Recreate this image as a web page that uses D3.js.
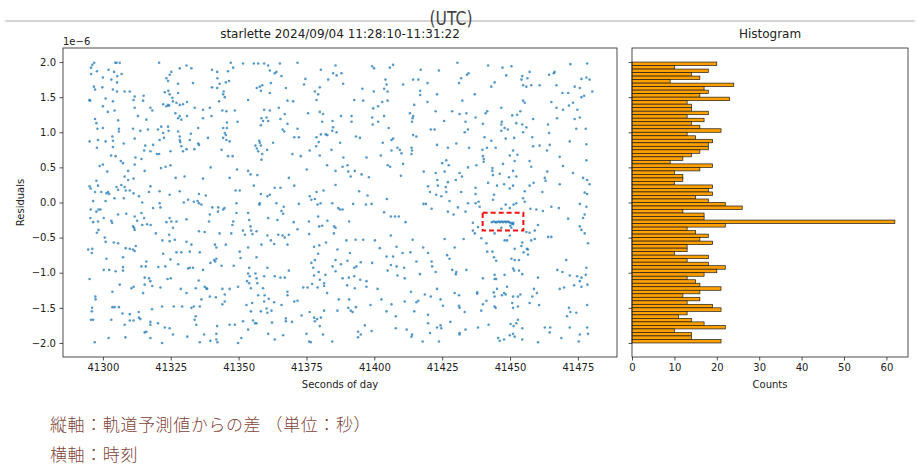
<!DOCTYPE html>
<meta charset="utf-8">
<title>starlette 2024/09/04 residuals</title>
<style>
body { margin: 0; background: #fff; }
svg { display: block; }
.tick text { font: 10px "DejaVu Sans", sans-serif; fill: #222; }
.tick line { stroke: #222; stroke-width: 0.8; }
.lbl { font: 10px "DejaVu Sans", sans-serif; fill: #222; }
.ttl { font: 12px "DejaVu Sans", sans-serif; fill: #222; text-anchor: middle; }
.frame { fill: none; stroke: #222; stroke-width: 0.8; }
.jp { font: 300 17px "Noto Sans CJK JP", sans-serif; fill: #7f4438; letter-spacing: 0.6px; }
</style>
<svg width="920" height="466"></svg>
<script src="https://d3js.org/d3.v7.min.js"></script>
<script>
// ---- data (residuals in units of 1e-6 s) ----
var xTicks = [41300, 41325, 41350, 41375, 41400, 41425, 41450, 41475];
var yTicks = [-2.0, -1.5, -1.0, -0.5, 0.0, 0.5, 1.0, 1.5, 2.0];
var countTicks = [0, 10, 20, 30, 40, 50, 60];

// histogram counts, top bin (2.0) down to bottom bin (-2.0)
var histRange = [-2.0, 2.0];
var histCounts = [20,10,18,14,16,9,24,17,18,16,23,13,14,14,18,13,17,14,16,21,
                  13,15,19,18,18,16,14,12,9,19,16,10,12,12,10,19,18,19,15,18,
                  22,26,12,17,17,62,22,13,15,18,16,19,13,13,10,18,13,18,22,20,
                  17,13,15,16,21,16,12,16,13,19,21,13,11,14,17,22,10,14,14,21];

// highlighted region [x0, x1, yTop, yBottom]
var redBox = [41439.9, 41454.9, -0.145, -0.40];

var scatterA = [[41296.8,1.99],[41296.1,1.96],[41295.6,1.92],[41304.6,1.99],[41306.2,1.99],[41305.0,1.99],[41320.7,1.99],[41330.8,1.95],[41328.3,1.91],[41332.6,1.91],[41347.1,1.99],[41351.6,1.98],[41297.8,1.87],[41302.1,1.89],[41304.1,1.86],[41306.9,1.83],[41305.3,1.80],[41295.7,1.83],[41325.2,1.86],[41324.6,1.82],[41340.2,1.89],[41342.1,1.86],[41346.1,1.87],[41348.0,1.92],[41300.0,1.78],[41303.1,1.75],[41305.2,1.71],[41323.4,1.77],[41324.0,1.73],[41327.7,1.69],[41333.2,1.70],[41342.2,1.77],[41343.0,1.69],[41345.3,1.71],[41346.5,1.73],[41296.7,1.65],[41297.1,1.61],[41299.8,1.64],[41303.7,1.61],[41305.2,1.58],[41308.0,1.58],[41309.9,1.58],[41311.7,1.51],[41315.0,1.52],[41322.8,1.57],[41324.1,1.59],[41324.6,1.54],[41325.6,1.49],[41327.7,1.56],[41340.2,1.64],[41342.1,1.63],[41344.3,1.54],[41344.5,1.58],[41344.9,1.50],[41295.0,1.46],[41295.3,1.45],[41301.0,1.48],[41303.7,1.44],[41311.3,1.46],[41314.8,1.45],[41322.2,1.40],[41324.0,1.39],[41325.8,1.44],[41327.1,1.42],[41328.3,1.39],[41329.5,1.40],[41331.0,1.43],[41342.8,1.44],[41353.5,1.46],[41300.0,1.37],[41311.7,1.35],[41317.5,1.35],[41318.2,1.31],[41323.4,1.37],[41324.4,1.38],[41333.8,1.35],[41336.9,1.32],[41339.4,1.35],[41344.0,1.31],[41345.5,1.30],[41348.6,1.31],[41301.8,1.29],[41304.3,1.31],[41297.1,1.19],[41297.6,1.13],[41305.6,1.17],[41312.9,1.23],[41316.0,1.18],[41326.7,1.27],[41327.7,1.20],[41328.9,1.18],[41328.3,1.23],[41331.0,1.23],[41336.9,1.20],[41340.0,1.23],[41345.7,1.14],[41349.6,1.15],[41298.0,1.05],[41300.0,1.06],[41305.9,1.05],[41305.9,1.01],[41311.1,1.05],[41313.8,1.02],[41316.6,1.04],[41320.3,1.04],[41321.5,1.08],[41324.0,1.08],[41322.2,0.99],[41324.2,1.02],[41327.7,1.01],[41332.4,0.98],[41335.1,1.06],[41344.3,1.06],[41345.7,1.06],[41344.9,0.99],[41295.1,0.87],[41298.2,0.89],[41301.0,0.87],[41303.5,0.94],[41303.7,0.88],[41307.7,0.84],[41311.7,0.91],[41315.6,0.81],[41318.5,0.82],[41320.9,0.89],[41322.5,0.92],[41328.3,0.94],[41328.3,0.89],[41328.5,0.86],[41328.9,0.80],[41332.0,0.89],[41335.1,0.84],[41335.4,0.82],[41338.7,0.92],[41344.3,0.92],[41345.3,0.96],[41345.5,0.89],[41346.7,0.87],[41297.8,0.78],[41303.7,0.79],[41315.2,0.74],[41317.5,0.73],[41319.9,0.69],[41320.7,0.69],[41324.9,0.73],[41329.5,0.73],[41330.8,0.76],[41333.7,0.76],[41343.7,0.75],[41346.1,0.66],[41347.8,0.66],[41303.0,0.67],[41304.7,0.66],[41306.6,0.59],[41307.4,0.56],[41312.0,0.64],[41314.2,0.62],[41311.7,0.54],[41300.0,0.54],[41298.8,0.52],[41321.4,0.49],[41323.1,0.51],[41324.9,0.53],[41315.4,0.45],[41309.3,0.45],[41301.6,0.44],[41349.4,0.47],[41339.7,0.50],[41308.0,0.37],[41309.3,0.32],[41311.3,0.34],[41326.8,0.35],[41330.1,0.37],[41336.9,0.34],[41346.7,0.35],[41295.1,0.23],[41295.5,0.20],[41297.6,0.31],[41298.2,0.24],[41297.1,0.15],[41301.3,0.13],[41299.4,0.15],[41305.0,0.22],[41305.6,0.18],[41306.8,0.25],[41308.0,0.22],[41308.4,0.17],[41309.9,0.17],[41311.3,0.13],[41313.3,0.09],[41317.0,0.15],[41317.5,0.23],[41320.9,0.16],[41324.6,0.11],[41328.3,0.16],[41335.4,0.12],[41337.9,0.10],[41348.9,0.17],[41350.4,0.17],[41296.4,0.02],[41301.0,0.02],[41301.9,0.15],[41302.3,0.12],[41304.3,0.06],[41307.7,0.06],[41314.5,0.00],[41320.9,-0.01],[41321.2,-0.07],[41318.5,-0.08],[41329.8,0.00],[41331.4,0.04],[41333.5,0.01],[41334.9,0.02],[41335.4,-0.01],[41336.3,-0.03],[41340.3,-0.07],[41342.4,-0.13],[41342.5,-0.07],[41344.3,-0.10],[41344.8,-0.08],[41349.2,-0.01],[41349.2,-0.15],[41295.5,-0.10],[41297.6,-0.13],[41298.4,-0.10],[41299.1,-0.10],[41305.6,-0.17],[41308.6,-0.16],[41311.7,-0.20],[41314.2,-0.15],[41315.2,-0.22],[41312.6,-0.26],[41316.3,-0.31],[41317.6,-0.32],[41324.6,-0.22],[41325.2,-0.27],[41323.4,-0.28],[41327.1,-0.27],[41330.8,-0.24],[41339.4,-0.17],[41339.1,-0.27],[41348.0,-0.27],[41347.7,-0.32],[41351.6,-0.40],[41295.4,-0.22],[41296.4,-0.28],[41298.2,-0.27],[41300.3,-0.22],[41303.1,-0.26],[41303.4,-0.29],[41298.4,-0.39],[41297.8,-0.43],[41311.1,-0.34],[41311.5,-0.36],[41311.7,-0.39],[41314.5,-0.32],[41319.5,-0.44],[41324.4,-0.46],[41325.8,-0.36],[41335.4,-0.41],[41337.5,-0.42],[41343.0,-0.44],[41347.3,-0.44],[41300.7,-0.50],[41301.0,-0.56],[41304.0,-0.57],[41305.6,-0.58],[41308.4,-0.65],[41309.9,-0.66],[41311.1,-0.67],[41311.7,-0.69],[41312.1,-0.62],[41321.9,-0.54],[41324.6,-0.55],[41326.5,-0.53],[41330.8,-0.56],[41332.6,-0.60],[41341.3,-0.60],[41341.8,-0.64],[41345.3,-0.60],[41352.3,-0.46],[41294.6,-0.67],[41296.1,-0.66],[41295.9,-0.72],[41301.3,-0.80],[41307.4,-0.78],[41322.2,-0.73],[41324.9,-0.81],[41327.1,-0.71],[41328.9,-0.71],[41332.0,-0.70],[41335.7,-0.71],[41341.8,-0.80],[41341.4,-0.84],[41339.6,-0.86],[41341.0,-0.82],[41343.7,-0.90],[41348.2,-0.90],[41350.4,-0.70],[41350.7,-0.79],[41300.3,-0.96],[41302.3,-0.96],[41304.7,-0.98],[41307.4,-0.92],[41307.4,-0.97],[41314.2,-0.91],[41316.0,-0.84],[41315.8,-0.91],[41320.4,-0.92],[41323.0,-0.91],[41327.7,-0.88],[41331.4,-0.94],[41332.0,-0.93],[41333.2,-0.93],[41336.9,-0.96],[41295.1,-1.09],[41303.5,-1.27],[41306.2,-1.17],[41310.5,-1.22],[41311.3,-1.20],[41315.4,-1.07],[41315.4,-1.17],[41317.0,-1.08],[41317.5,-1.12],[41314.8,-1.29],[41318.2,-1.19],[41321.2,-1.21],[41323.8,-1.09],[41325.0,-1.08],[41328.7,-1.23],[41330.8,-1.29],[41334.2,-1.22],[41335.3,-1.11],[41337.5,-1.20],[41338.1,-1.22],[41338.4,-1.23],[41341.6,-1.35],[41339.4,-1.34],[41344.0,-1.23],[41344.9,-1.31],[41346.7,-1.23],[41349.8,-1.20],[41353.1,-1.12],[41297.2,-1.34],[41297.3,-1.38],[41296.0,-1.50],[41295.9,-1.55],[41295.6,-1.67],[41296.4,-1.67],[41303.5,-1.49],[41304.3,-1.49],[41305.9,-1.49],[41307.2,-1.58],[41309.9,-1.59],[41313.2,-1.56],[41313.3,-1.64],[41318.1,-1.52],[41321.8,-1.48],[41326.1,-1.48],[41329.2,-1.48],[41332.6,-1.50],[41333.5,-1.48],[41334.2,-1.62],[41333.8,-1.67],[41335.7,-1.48],[41336.3,-1.38],[41344.0,-1.45],[41344.9,-1.41],[41352.9,-1.46],[41303.1,-1.67],[41308.0,-1.74],[41309.9,-1.68],[41311.3,-1.68],[41313.8,-1.66],[41317.5,-1.70],[41317.5,-1.74],[41320.3,-1.72],[41322.8,-1.78],[41324.6,-1.79],[41334.4,-1.74],[41342.1,-1.76],[41346.7,-1.74],[41348.6,-1.74],[41351.6,-1.69],[41297.0,-1.99],[41302.1,-1.93],[41308.3,-1.92],[41315.4,-1.85],[41316.0,-1.84],[41317.5,-1.93],[41321.8,-2.00],[41325.8,-1.88],[41331.1,-1.91],[41335.7,-1.99],[41337.3,-1.88],[41339.6,-1.97],[41341.8,-1.87],[41341.8,-1.95],[41342.2,-1.99],[41349.8,-2.00],[41351.0,-1.93]];

var scatterB = [[41355.6,1.98],[41357.2,1.98],[41359.4,1.98],[41360.9,1.95],[41365.2,1.98],[41371.7,1.99],[41361.5,1.88],[41363.3,1.84],[41363.9,1.86],[41365.8,1.80],[41380.3,1.89],[41384.8,1.84],[41385.7,1.95],[41386.1,1.81],[41387.9,1.84],[41399.2,1.94],[41399.9,1.91],[41405.7,1.92],[41406.9,1.96],[41417.1,1.89],[41374.6,1.76],[41374.1,1.68],[41383.0,1.75],[41356.7,1.63],[41357.8,1.65],[41358.2,1.59],[41358.7,1.67],[41361.9,1.70],[41361.5,1.56],[41367.4,1.63],[41378.1,1.58],[41379.9,1.64],[41379.3,1.54],[41388.5,1.69],[41395.6,1.62],[41399.8,1.58],[41404.1,1.75],[41404.5,1.68],[41403.6,1.62],[41404.9,1.58],[41410.6,1.68],[41414.3,1.75],[41416.2,1.75],[41419.6,1.70],[41416.9,1.59],[41416.9,1.53],[41368.0,1.45],[41370.1,1.44],[41378.7,1.46],[41392.6,1.46],[41395.9,1.45],[41402.9,1.43],[41404.9,1.45],[41414.7,1.39],[41419.6,1.43],[41364.8,1.35],[41359.4,1.32],[41361.5,1.31],[41367.0,1.26],[41375.6,1.27],[41379.9,1.29],[41381.1,1.26],[41399.6,1.34],[41401.4,1.37],[41413.1,1.27],[41414.3,1.23],[41414.1,1.20],[41358.4,1.20],[41360.3,1.21],[41359.0,1.16],[41358.2,1.10],[41360.9,1.16],[41365.4,1.19],[41368.0,1.12],[41380.8,1.15],[41384.6,1.16],[41387.7,1.23],[41391.6,1.23],[41391.6,1.15],[41399.2,1.21],[41399.4,1.11],[41401.4,1.15],[41403.6,1.23],[41405.3,1.06],[41413.9,1.15],[41366.2,1.04],[41366.8,1.01],[41371.7,1.05],[41384.8,1.07],[41384.5,1.02],[41382.1,0.97],[41382.7,0.96],[41378.7,0.93],[41380.3,0.97],[41386.1,1.00],[41356.2,0.81],[41357.6,0.88],[41357.8,0.85],[41358.2,0.81],[41356.7,0.77],[41357.2,0.73],[41358.7,0.69],[41360.5,0.75],[41358.4,0.61],[41362.7,0.85],[41370.5,0.93],[41372.2,0.93],[41393.2,0.94],[41394.7,0.92],[41403.1,0.85],[41406.3,0.89],[41406.9,0.91],[41408.5,0.78],[41409.4,0.75],[41410.0,0.70],[41413.7,0.78],[41414.3,0.96],[41415.5,0.94],[41420.8,1.04],[41369.8,0.69],[41372.9,0.66],[41376.2,0.74],[41378.6,0.80],[41379.5,0.86],[41384.2,0.75],[41387.4,0.85],[41379.9,0.67],[41388.6,0.64],[41397.1,0.64],[41402.4,0.67],[41406.3,0.74],[41404.9,0.53],[41405.8,0.51],[41413.7,0.69],[41413.9,0.74],[41353.5,0.45],[41354.4,0.40],[41356.9,0.39],[41382.6,0.53],[41385.7,0.45],[41388.3,0.51],[41390.1,0.53],[41390.4,0.44],[41392.8,0.45],[41395.3,0.40],[41398.0,0.36],[41391.3,0.37],[41375.1,0.47],[41409.8,0.38],[41410.6,0.55],[41418.2,0.44],[41368.5,0.35],[41355.6,0.24],[41358.2,0.12],[41360.6,0.09],[41361.5,0.11],[41363.3,0.21],[41365.4,0.21],[41370.5,0.24],[41376.2,0.09],[41376.8,0.04],[41378.7,0.15],[41381.3,0.17],[41385.7,0.25],[41394.4,0.16],[41397.5,0.10],[41419.8,0.23],[41420.5,0.15],[41357.8,-0.01],[41357.6,-0.03],[41363.9,-0.01],[41365.8,-0.12],[41366.6,-0.06],[41372.2,-0.02],[41378.1,0.05],[41379.1,-0.03],[41380.2,-0.01],[41384.5,-0.01],[41386.7,-0.08],[41387.3,-0.10],[41388.3,-0.10],[41392.2,-0.02],[41396.9,-0.03],[41399.0,-0.02],[41404.6,0.05],[41403.6,-0.14],[41406.1,-0.20],[41407.6,-0.20],[41409.0,-0.20],[41418.1,-0.02],[41419.0,-0.02],[41421.1,-0.09],[41353.5,-0.15],[41353.9,-0.25],[41354.4,-0.34],[41360.9,-0.22],[41364.3,-0.25],[41366.4,-0.16],[41370.3,-0.28],[41371.7,-0.38],[41375.9,-0.27],[41379.3,-0.20],[41379.7,-0.34],[41380.8,-0.33],[41382.7,-0.26],[41385.2,-0.34],[41385.7,-0.36],[41385.1,-0.44],[41390.7,-0.27],[41411.5,-0.28],[41354.6,-0.40],[41355.1,-0.45],[41356.6,-0.41],[41360.6,-0.47],[41361.9,-0.54],[41363.1,-0.59],[41364.6,-0.46],[41366.2,-0.47],[41367.0,-0.50],[41368.5,-0.46],[41368.0,-0.60],[41358.4,-0.60],[41356.6,-0.78],[41353.5,-0.64],[41376.0,-0.45],[41377.8,-0.63],[41379.7,-0.61],[41382.2,-0.57],[41386.4,-0.67],[41389.7,-0.54],[41391.0,-0.72],[41393.1,-0.53],[41395.9,-0.53],[41400.2,-0.54],[41402.0,-0.65],[41406.1,-0.47],[41408.2,-0.63],[41410.4,-0.72],[41413.3,-0.71],[41414.1,-0.53],[41418.0,-0.64],[41404.5,-0.77],[41406.9,-0.77],[41419.8,-0.72],[41379.3,-0.73],[41378.1,-0.82],[41376.8,-0.86],[41385.7,-0.82],[41387.7,-0.88],[41390.1,-0.83],[41392.6,-0.93],[41393.4,-0.91],[41395.0,-0.85],[41399.2,-0.86],[41406.1,-0.89],[41408.2,-0.91],[41411.0,-0.93],[41415.5,-0.84],[41421.1,-0.84],[41421.3,-0.91],[41353.9,-0.93],[41353.5,-1.01],[41354.1,-1.05],[41360.6,-0.93],[41356.2,-1.01],[41356.6,-1.08],[41356.9,-1.15],[41359.4,-1.05],[41363.3,-1.05],[41365.4,-1.07],[41367.0,-1.07],[41368.5,-0.97],[41377.5,-0.93],[41377.8,-1.04],[41379.5,-0.99],[41382.0,-1.03],[41384.6,-0.91],[41385.7,-0.98],[41388.3,-1.08],[41390.6,-1.07],[41392.6,-1.05],[41394.8,-1.10],[41397.1,-1.12],[41397.1,-1.20],[41404.9,-0.97],[41408.5,-1.04],[41411.2,-1.08],[41416.8,-1.02],[41353.9,-1.15],[41354.5,-1.22],[41359.0,-1.22],[41357.2,-1.32],[41359.6,-1.32],[41359.4,-1.41],[41361.1,-1.37],[41363.1,-1.42],[41368.0,-1.27],[41368.0,-1.32],[41371.7,-1.40],[41370.5,-1.41],[41373.8,-1.21],[41375.4,-1.21],[41377.1,-1.16],[41379.9,-1.10],[41381.5,-1.15],[41381.5,-1.19],[41382.6,-1.29],[41379.1,-1.21],[41386.9,-1.38],[41390.0,-1.18],[41390.7,-1.38],[41392.8,-1.22],[41398.6,-1.46],[41401.2,-1.23],[41402.6,-1.38],[41406.3,-1.45],[41413.5,-1.27],[41411.2,-1.41],[41415.5,-1.42],[41416.2,-1.40],[41418.6,-1.31],[41420.8,-1.34],[41355.0,-1.43],[41354.5,-1.55],[41358.2,-1.55],[41360.3,-1.51],[41360.6,-1.57],[41362.1,-1.54],[41365.8,-1.46],[41373.2,-1.61],[41376.2,-1.56],[41377.8,-1.64],[41378.1,-1.69],[41378.9,-1.66],[41380.3,-1.64],[41381.5,-1.54],[41386.4,-1.54],[41390.4,-1.50],[41391.3,-1.54],[41393.2,-1.49],[41392.0,-1.56],[41404.5,-1.55],[41407.9,-1.62],[41414.7,-1.55],[41419.8,-1.60],[41355.3,-1.68],[41356.0,-1.72],[41356.6,-1.72],[41353.5,-1.81],[41362.3,-1.71],[41367.4,-1.65],[41367.4,-1.69],[41369.7,-1.70],[41379.9,-1.76],[41396.5,-1.75],[41394.0,-1.84],[41399.0,-1.83],[41407.9,-1.79],[41411.9,-1.81],[41419.8,-1.72],[41420.5,-1.86],[41360.9,-1.87],[41363.3,-1.95],[41366.4,-1.89],[41375.0,-1.87],[41376.0,-1.98],[41376.6,-1.99],[41381.1,-1.88],[41384.5,-1.98],[41394.0,-1.92],[41395.0,-1.88],[41413.7,-1.91],[41413.9,-1.88],[41417.8,-1.98]];

var scatterC = [[41430.6,1.99],[41441.9,1.95],[41447.2,1.92],[41450.5,1.94],[41472.2,1.97],[41478.4,1.98],[41423.8,1.88],[41434.7,1.84],[41434.1,1.82],[41448.6,1.81],[41454.5,1.80],[41457.2,1.86],[41454.2,1.75],[41456.4,1.77],[41464.4,1.82],[41466.1,1.84],[41466.4,1.86],[41478.1,1.78],[41476.3,1.76],[41479.3,1.75],[41480.3,1.58],[41432.0,1.77],[41431.2,1.70],[41443.1,1.65],[41444.3,1.71],[41454.8,1.67],[41457.8,1.67],[41456.0,1.65],[41460.9,1.67],[41467.1,1.67],[41469.3,1.56],[41471.4,1.56],[41473.8,1.65],[41475.7,1.63],[41476.3,1.50],[41477.3,1.52],[41423.1,1.54],[41437.0,1.54],[41432.4,1.45],[41446.8,1.35],[41452.6,1.25],[41454.8,1.45],[41455.4,1.42],[41465.2,1.43],[41467.1,1.35],[41469.5,1.32],[41471.7,1.38],[41473.2,1.42],[41474.8,1.32],[41422.6,1.30],[41428.7,1.30],[41431.4,1.26],[41433.9,1.27],[41441.6,1.30],[41441.0,1.27],[41437.3,1.21],[41440.0,1.12],[41447.0,1.15],[41446.8,1.11],[41450.8,1.24],[41453.8,1.30],[41458.5,1.19],[41467.3,1.20],[41473.8,1.19],[41475.7,1.21],[41425.7,1.16],[41433.6,1.15],[41454.5,1.11],[41456.0,1.07],[41448.0,1.06],[41449.2,1.04],[41446.8,1.02],[41452.3,1.13],[41464.0,1.11],[41474.4,1.05],[41477.9,1.05],[41422.2,1.04],[41434.5,1.04],[41433.3,1.00],[41440.6,0.93],[41443.1,0.88],[41444.7,0.78],[41448.4,0.91],[41451.5,0.92],[41454.8,1.00],[41458.2,0.93],[41464.4,0.99],[41464.6,0.82],[41478.1,0.83],[41472.0,0.87],[41430.2,0.84],[41434.9,0.78],[41439.8,0.75],[41441.5,0.78],[41423.1,0.82],[41427.1,0.78],[41451.1,0.74],[41449.9,0.67],[41452.7,0.68],[41458.5,0.80],[41460.9,0.81],[41463.6,0.74],[41468.3,0.65],[41440.0,0.66],[41440.3,0.58],[41440.3,0.62],[41469.5,0.52],[41478.1,0.60],[41426.5,0.60],[41425.0,0.56],[41427.4,0.53],[41437.6,0.53],[41434.5,0.50],[41443.5,0.49],[41443.5,0.45],[41443.7,0.39],[41446.2,0.41],[41447.4,0.55],[41451.7,0.59],[41451.1,0.45],[41452.3,0.37],[41457.2,0.59],[41457.8,0.51],[41462.8,0.35],[41463.7,0.44],[41473.2,0.42],[41476.9,0.35],[41478.4,0.32],[41431.4,0.42],[41432.3,0.37],[41422.6,0.42],[41423.2,0.32],[41425.9,0.44],[41423.4,0.24],[41426.3,0.22],[41426.5,0.15],[41427.1,0.29],[41430.0,0.32],[41432.0,0.15],[41434.5,-0.01],[41437.3,0.21],[41437.3,0.12],[41438.4,0.01],[41441.9,0.28],[41444.1,0.11],[41445.2,0.24],[41447.8,0.26],[41449.6,0.36],[41449.9,0.20],[41451.1,0.24],[41455.4,0.16],[41454.8,0.06],[41457.2,0.24],[41458.7,0.28],[41461.9,0.15],[41463.1,0.31],[41468.3,0.26],[41477.5,0.14],[41478.4,0.12],[41479.3,0.26],[41422.8,0.11],[41424.7,0.09],[41427.7,0.02],[41427.1,-0.13],[41430.8,-0.07],[41429.2,-0.17],[41433.6,-0.13],[41437.3,-0.01],[41438.8,-0.06],[41443.7,0.04],[41446.8,-0.09],[41448.4,-0.03],[41449.9,-0.08],[41451.3,-0.03],[41452.3,-0.01],[41455.4,0.01],[41457.5,-0.09],[41459.7,-0.10],[41462.1,-0.12],[41465.2,-0.06],[41468.0,-0.08],[41475.7,-0.02],[41477.5,-0.17],[41478.1,-0.06],[41471.4,-0.23],[41476.9,-0.22],[41436.3,-0.29],[41436.3,-0.40],[41437.0,-0.44],[41438.2,-0.35],[41444.3,-0.44],[41446.8,-0.36],[41456.0,-0.42],[41457.2,-0.43],[41459.1,-0.40],[41450.5,-0.36],[41451.1,-0.31],[41460.3,-0.32],[41464.0,-0.49],[41465.2,-0.49],[41475.7,-0.34],[41476.3,-0.39],[41477.5,-0.44],[41425.9,-0.52],[41432.9,-0.52],[41439.4,-0.51],[41441.3,-0.58],[41448.0,-0.54],[41448.9,-0.54],[41449.9,-0.47],[41451.7,-0.66],[41454.2,-0.62],[41454.5,-0.57],[41456.6,-0.67],[41457.8,-0.54],[41459.1,-0.52],[41478.7,-0.58],[41429.6,-0.64],[41426.8,-0.75],[41427.7,-0.80],[41441.6,-0.70],[41443.5,-0.70],[41444.1,-0.78],[41444.9,-0.83],[41450.5,-0.80],[41451.7,-0.82],[41453.3,-0.82],[41455.0,-0.71],[41456.6,-0.74],[41456.2,-0.66],[41470.7,-0.82],[41422.6,-0.99],[41428.7,-0.96],[41430.2,-0.99],[41430.0,-1.02],[41433.9,-0.96],[41440.0,-1.08],[41444.3,-1.09],[41444.9,-1.09],[41444.3,-1.03],[41448.0,-1.03],[41451.1,-0.94],[41451.5,-0.97],[41453.3,-0.97],[41454.5,-1.02],[41460.3,-1.07],[41467.4,-0.96],[41469.3,-0.99],[41472.0,-1.04],[41474.7,-1.05],[41476.3,-1.07],[41475.7,-1.12],[41478.1,-0.93],[41477.9,-1.03],[41473.6,-1.18],[41476.3,-1.20],[41478.5,-1.17],[41423.1,-1.23],[41424.4,-1.38],[41429.6,-1.29],[41431.2,-1.32],[41437.9,-1.28],[41437.9,-1.30],[41441.3,-1.40],[41444.3,-1.34],[41444.0,-1.28],[41445.2,-1.23],[41447.0,-1.32],[41447.8,-1.29],[41448.4,-1.31],[41448.9,-1.20],[41451.1,-1.34],[41450.8,-1.43],[41452.9,-1.34],[41453.8,-1.31],[41457.2,-1.43],[41458.8,-1.23],[41459.9,-1.29],[41468.3,-1.23],[41469.9,-1.21],[41471.7,-1.50],[41472.2,-1.56],[41478.4,-1.46],[41425.3,-1.47],[41431.2,-1.47],[41431.4,-1.50],[41433.3,-1.56],[41439.4,-1.54],[41444.3,-1.48],[41444.7,-1.50],[41451.1,-1.50],[41452.9,-1.48],[41458.2,-1.34],[41460.7,-1.46],[41471.0,-1.62],[41474.4,-1.57],[41428.0,-1.70],[41423.1,-1.78],[41424.4,-1.75],[41424.7,-1.79],[41431.4,-1.86],[41431.4,-1.88],[41433.6,-1.81],[41438.2,-1.78],[41442.1,-1.74],[41450.2,-1.73],[41451.3,-1.76],[41452.3,-1.72],[41452.9,-1.67],[41454.5,-1.79],[41451.1,-1.87],[41449.9,-1.89],[41446.2,-1.97],[41445.6,-1.93],[41447.8,-1.95],[41451.7,-1.91],[41454.5,-1.95],[41460.3,-1.99],[41462.8,-1.78],[41464.6,-1.85],[41464.8,-1.78],[41472.0,-1.78],[41475.3,-1.98],[41475.7,-1.88],[41478.4,-1.78],[41478.7,-1.87],[41423.8,-1.98],[41468.9,-1.93],[41440.0,-1.45]];

// the dense streak inside the red box
var streak = [[41443.3,-0.28],[41444.0,-0.27],[41444.6,-0.28],[41445.1,-0.28],[41445.8,-0.27],[41446.3,-0.28],[41446.9,-0.27],[41447.4,-0.28],[41448.0,-0.27],[41448.5,-0.28],[41449.1,-0.27],[41449.6,-0.28],[41450.2,-0.29],[41450.7,-0.30],[41451.2,-0.29],[41450.1,-0.33]];

// ---- layout ----
var svg = d3.select("svg");
var main = {left: 63, right: 617, top: 48, bottom: 357};
var hist = {left: 632, right: 908, top: 48, bottom: 357};

var x = d3.scaleLinear().domain([41285.3, 41489.4]).range([main.left, main.right]);
var y = d3.scaleLinear().domain([-2.2, 2.2]).range([main.bottom, main.top]);
var hx = d3.scaleLinear().domain([0, 65.1]).range([hist.left, hist.right]);

// top rule with (UTC)
svg.append("line")
  .attr("x1", 5).attr("x2", 915).attr("y1", 21).attr("y2", 21)
  .attr("stroke", "#d4d4d4").attr("stroke-width", 2);
svg.append("text")
  .attr("transform", "translate(451,25) scale(0.82,1)")
  .attr("text-anchor", "middle")
  .style("font", "19px 'DejaVu Sans', sans-serif")
  .attr("fill", "#444")
  .text("(UTC)");

// ---- scatter panel ----
var pts = scatterA.concat(scatterB, scatterC, streak);

svg.append("g")
  .selectAll("circle")
  .data(pts)
  .enter().append("circle")
    .attr("cx", function(d) { return x(d[0]); })
    .attr("cy", function(d) { return y(d[1]); })
    .attr("r", 1.3)
    .attr("fill", "#1f77b4")
    .attr("fill-opacity", 0.75);

svg.append("rect")
  .attr("x", x(redBox[0]))
  .attr("y", y(redBox[2]))
  .attr("width", x(redBox[1]) - x(redBox[0]))
  .attr("height", y(redBox[3]) - y(redBox[2]))
  .attr("fill", "none")
  .attr("stroke", "#ee1111")
  .attr("stroke-width", 2)
  .attr("stroke-dasharray", "5,3");

var gx = svg.append("g")
  .attr("transform", "translate(0," + main.bottom + ")")
  .call(d3.axisBottom(x).tickValues(xTicks).tickFormat(d3.format("d")).tickSize(3.5).tickPadding(3.5));
gx.select(".domain").remove();

var gy = svg.append("g")
  .attr("transform", "translate(" + main.left + ",0)")
  .call(d3.axisLeft(y).tickValues(yTicks).tickFormat(d3.format(".1f")).tickSize(3.5).tickPadding(3.5));
gy.select(".domain").remove();

svg.append("rect").attr("class", "frame")
  .attr("x", main.left).attr("y", main.top)
  .attr("width", main.right - main.left).attr("height", main.bottom - main.top);

svg.append("text").attr("class", "ttl")
  .attr("x", (main.left + main.right) / 2).attr("y", 38)
  .text("starlette 2024/09/04 11:28:10-11:31:22");
svg.append("text").attr("class", "lbl")
  .attr("x", main.left).attr("y", 45)
  .text("1e\u22126");
svg.append("text").attr("class", "lbl")
  .attr("text-anchor", "middle")
  .attr("x", (main.left + main.right) / 2).attr("y", 388)
  .text("Seconds of day");
svg.append("text").attr("class", "lbl")
  .attr("text-anchor", "middle")
  .attr("transform", "translate(24," + (main.top + main.bottom) / 2 + ") rotate(-90)")
  .text("Residuals");

// ---- histogram panel ----
var binW = (histRange[1] - histRange[0]) / histCounts.length;

svg.append("g")
  .selectAll("rect")
  .data(histCounts)
  .enter().append("rect")
    .attr("x", hx(0))
    .attr("y", function(d, i) { return y(histRange[1] - i * binW); })
    .attr("width", function(d) { return hx(d) - hx(0); })
    .attr("height", function(d, i) { return y(histRange[1] - (i + 1) * binW) - y(histRange[1] - i * binW); })
    .attr("fill", "#ffa000")
    .attr("stroke", "#1a1a1a")
    .attr("stroke-width", 0.7);

var hxAxis = svg.append("g")
  .attr("transform", "translate(0," + hist.bottom + ")")
  .call(d3.axisBottom(hx).tickValues(countTicks).tickSize(3.5).tickPadding(3.5));
hxAxis.select(".domain").remove();

var hyAxis = svg.append("g")
  .attr("transform", "translate(" + hist.left + ",0)")
  .call(d3.axisLeft(y).tickValues(yTicks).tickFormat("").tickSize(3.5));
hyAxis.select(".domain").remove();

svg.append("rect").attr("class", "frame")
  .attr("x", hist.left).attr("y", hist.top)
  .attr("width", hist.right - hist.left).attr("height", hist.bottom - hist.top);

svg.append("text").attr("class", "ttl")
  .attr("x", (hist.left + hist.right) / 2).attr("y", 38)
  .text("Histogram");
svg.append("text").attr("class", "lbl")
  .attr("text-anchor", "middle")
  .attr("x", (hist.left + hist.right) / 2).attr("y", 388)
  .text("Counts");

svg.selectAll(".tick text").attr("font-size", null).attr("font-family", null);

// ---- caption ----
svg.append("text").attr("class", "jp")
  .attr("x", 50).attr("y", 431)
  .text("縦軸：軌道予測値からの差 （単位：秒）");
svg.append("text").attr("class", "jp")
  .attr("x", 50).attr("y", 461)
  .text("横軸：時刻");
</script>
